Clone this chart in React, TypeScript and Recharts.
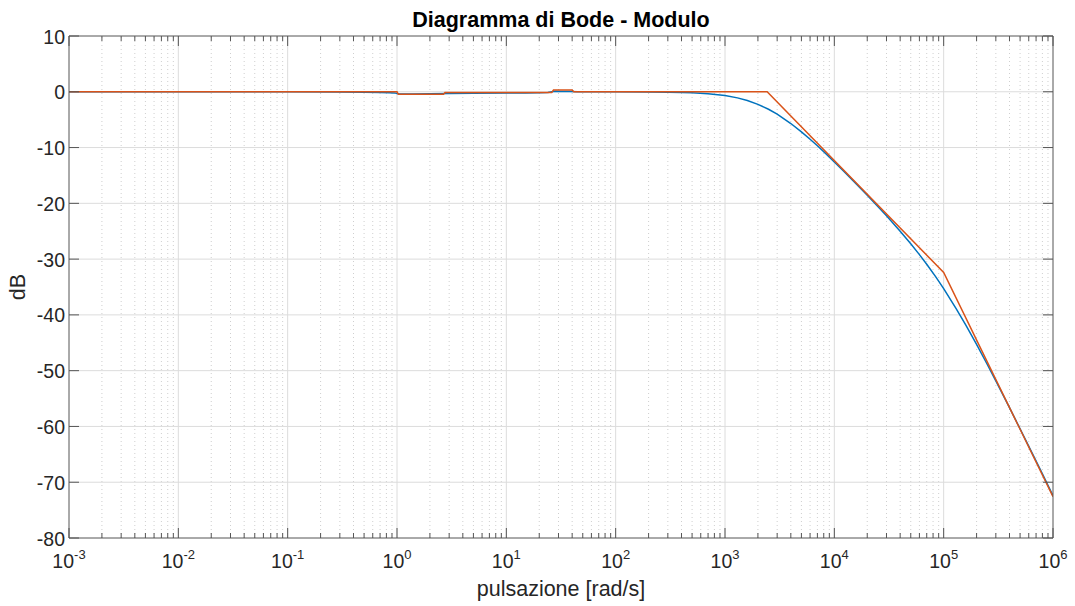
import React from 'react';
import { LineChart, Line, XAxis, YAxis, ReferenceLine } from 'recharts';

// ---- data ----
const blueFreq = [0.001, 0.01, 0.1, 0.3, 0.5, 0.7, 0.85, 0.95, 1.0, 1.05, 1.15, 1.4, 2, 3, 5, 10, 15, 20, 24, 26, 28, 32, 38, 45, 60, 100, 200, 300, 400, 500, 700, 1000, 1300, 1600, 2000, 2500, 3000, 4000, 5000, 6000, 7000, 8500, 10000, 12000, 15000, 20000, 25000, 30000, 40000, 50000, 60000, 70000, 85000, 100000, 130000, 160000, 200000, 250000, 300000, 400000, 500000, 650000, 800000, 1000000];
const blueDb = [0, 0, -0.01, -0.04, -0.08, -0.12, -0.16, -0.2, -0.3, -0.38, -0.4, -0.38, -0.35, -0.32, -0.28, -0.24, -0.21, -0.18, -0.12, 0.0, 0.08, 0.06, 0.03, 0.01, 0.0, -0.01, -0.03, -0.07, -0.12, -0.18, -0.35, -0.68, -1.09, -1.56, -2.25, -3.13, -4.02, -5.69, -7.19, -8.51, -9.68, -11.22, -12.58, -14.11, -16.02, -18.54, -20.55, -22.23, -24.99, -27.25, -29.2, -30.93, -33.24, -35.3, -38.87, -41.88, -45.29, -48.85, -51.83, -56.63, -60.42, -64.91, -68.48, -72.4];

const orangeFreq = [0.001, 1, 1.03, 2.66, 2.75, 26, 27, 40, 41.5, 2430, 100000, 1000000];
const orangeDb = [0, 0, -0.45, -0.45, -0.15, -0.15, 0.3, 0.3, 0, 0, -32.4, -72.6];

const decades = [-3, -2, -1, 0, 1, 2, 3, 4, 5, 6];
const yTicks = [-80, -70, -60, -50, -40, -30, -20, -10, 0, 10];
const minorMultipliers = [2, 3, 4, 5, 6, 7, 8, 9];

const majorX = decades.map((d) => Math.pow(10, d));
const minorX: number[] = [];
decades.slice(0, -1).forEach((d) => minorMultipliers.forEach((m) => minorX.push(m * Math.pow(10, d))));
const allXTicks = [...majorX, ...minorX].sort((a, b) => a - b);

const blueData = blueFreq.map((f, i) => ({ f, db: blueDb[i] }));
const orangeData = orangeFreq.map((f, i) => ({ f, db: orangeDb[i] }));

// ---- styles ----
const FONT = '"Liberation Sans", Arial, Helvetica, sans-serif';
const AXIS = '#555555';
const TEXT = '#262626';
const BLUE = '#0072BD';
const ORANGE = '#D95319';

const isMajor = (v: number) => {
  const e = Math.round(Math.log10(v));
  return Math.abs(v - Math.pow(10, e)) < 1e-6 * v;
};

const XTickBottom = (props: any) => {
  const { x, y, payload } = props;
  const v = payload.value;
  const major = isMajor(v);
  const e = Math.round(Math.log10(v));
  return (
    <g>
      <line x1={x} y1={y} x2={x} y2={y - (major ? 10 : 5)} stroke={AXIS} strokeWidth={1} />
      {major && (
        <text x={x} y={y + 30} textAnchor="middle" fontFamily={FONT} fontSize={19.5} fill={TEXT}>
          10<tspan dy={-9} fontSize={13}>{String(e)}</tspan>
        </text>
      )}
    </g>
  );
};

const XTickTop = (props: any) => {
  const { x, y, payload } = props;
  const major = isMajor(payload.value);
  return <line x1={x} y1={y} x2={x} y2={y + (major ? 10 : 5)} stroke={AXIS} strokeWidth={1} />;
};

const YTickLeft = (props: any) => {
  const { x, y, payload } = props;
  return (
    <g>
      <line x1={x} y1={y} x2={x + 10} y2={y} stroke={AXIS} strokeWidth={1} />
      <text x={x - 4} y={y + 7.5} textAnchor="end" fontFamily={FONT} fontSize={19.5} fill={TEXT}>
        {String(payload.value)}
      </text>
    </g>
  );
};

const YTickRight = (props: any) => {
  const { x, y } = props;
  return <line x1={x} y1={y} x2={x - 10} y2={y} stroke={AXIS} strokeWidth={1} />;
};

export default function App() {
  return (
    <div style={{ position: 'absolute', left: 0, top: 0, width: 1075, height: 606, background: '#ffffff' }}>
      <LineChart width={1075} height={606} margin={{ top: 0, right: 0, bottom: 0, left: 0 }}>
        <XAxis
          dataKey="f"
          type="number"
          scale="log"
          domain={[0.001, 1000000]}
          allowDataOverflow
          ticks={allXTicks}
          interval={0}
          height={68}
          tickSize={0}
          tickMargin={0}
          tick={XTickBottom}
          axisLine={{ stroke: AXIS, strokeWidth: 1 }}
          tickLine={false}
        />
        <XAxis
          xAxisId="top"
          orientation="top"
          dataKey="f"
          type="number"
          scale="log"
          domain={[0.001, 1000000]}
          allowDataOverflow
          ticks={allXTicks}
          interval={0}
          height={36}
          tickSize={0}
          tickMargin={0}
          tick={XTickTop}
          axisLine={{ stroke: AXIS, strokeWidth: 1 }}
          tickLine={false}
        />
        <YAxis
          type="number"
          domain={[-80, 10]}
          ticks={yTicks}
          interval={0}
          width={69}
          tickSize={0}
          tickMargin={0}
          tick={YTickLeft}
          axisLine={{ stroke: AXIS, strokeWidth: 1 }}
          tickLine={false}
          allowDataOverflow
        />
        <YAxis
          yAxisId="right"
          orientation="right"
          type="number"
          domain={[-80, 10]}
          ticks={yTicks}
          interval={0}
          width={22}
          tickSize={0}
          tickMargin={0}
          tick={YTickRight}
          axisLine={{ stroke: AXIS, strokeWidth: 1 }}
          tickLine={false}
          allowDataOverflow
        />
        {minorX.map((v) => (
          <ReferenceLine key={'mx' + v} x={v} stroke="#cfcfcf" strokeWidth={1} strokeDasharray="1 3" />
        ))}
        {majorX.slice(1, -1).map((v) => (
          <ReferenceLine key={'Mx' + v} x={v} stroke="#dcdcdc" strokeWidth={1} />
        ))}
        {yTicks.slice(1, -1).map((v) => (
          <ReferenceLine key={'My' + v} y={v} stroke="#dcdcdc" strokeWidth={1} />
        ))}
        <Line data={blueData} dataKey="db" stroke={BLUE} strokeWidth={1.5} dot={false} isAnimationActive={false} />
        <Line data={orangeData} dataKey="db" stroke={ORANGE} strokeWidth={1.5} dot={false} isAnimationActive={false} />
      </LineChart>
      <svg width={1075} height={606} style={{ position: 'absolute', left: 0, top: 0, pointerEvents: 'none' }}>
        <text x={561} y={27} textAnchor="middle" fontFamily={FONT} fontSize={21.5} fontWeight="bold" fill="#000000">
          Diagramma di Bode - Modulo
        </text>
        <text x={561} y={596} textAnchor="middle" fontFamily={FONT} fontSize={21.5} fill={TEXT}>
          pulsazione [rad/s]
        </text>
        <text x={25} y={287} textAnchor="middle" fontFamily={FONT} fontSize={21.5} fill={TEXT} transform="rotate(-90 25 287)">
          dB
        </text>
      </svg>
    </div>
  );
}
